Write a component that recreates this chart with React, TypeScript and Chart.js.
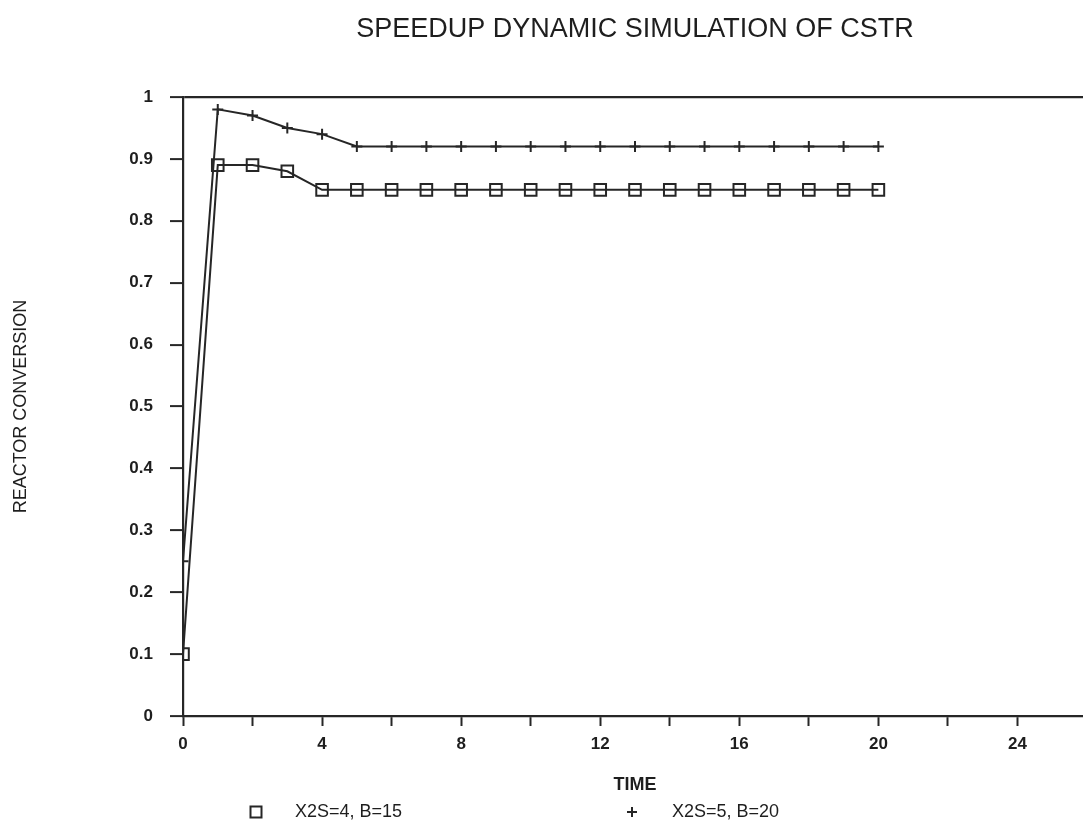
import React, { useEffect, useRef } from "react";
import { Chart, registerables } from "chart.js";

Chart.register(...registerables);

const times = [0, 1, 2, 3, 4, 5, 6, 7, 8, 9, 10, 11, 12, 13, 14, 15, 16, 17, 18, 19, 20];
const conversionA = [0.1, 0.89, 0.89, 0.88, 0.85, 0.85, 0.85, 0.85, 0.85, 0.85, 0.85, 0.85, 0.85, 0.85, 0.85, 0.85, 0.85, 0.85, 0.85, 0.85, 0.85];
const conversionB = [0.25, 0.98, 0.97, 0.95, 0.94, 0.92, 0.92, 0.92, 0.92, 0.92, 0.92, 0.92, 0.92, 0.92, 0.92, 0.92, 0.92, 0.92, 0.92, 0.92, 0.92];
const labelA = "X2S=4, B=15";
const labelB = "X2S=5, B=20";
const titleText = "SPEEDUP DYNAMIC SIMULATION OF CSTR";
const xTitle = "TIME";
const yTitle = "REACTOR CONVERSION";

const INK = "#262626";
const FONT = "'Liberation Sans', Arial, Helvetica, sans-serif";

const legendPlugin = {
  id: "scanLegend",
  afterDraw(chart: any) {
    const ctx = chart.ctx;
    const y = 812;
    const spots = [
      { mx: 256, tx: 295 },
      { mx: 632, tx: 672 },
    ];
    chart.data.datasets.forEach((ds: any, i: number) => {
      const s = spots[i];
      if (!s) return;
      ctx.save();
      ctx.strokeStyle = INK;
      ctx.lineWidth = 2;
      if (ds.pointStyle === "rect") {
        ctx.strokeRect(s.mx - 5.5, y - 5.5, 11, 11);
      } else {
        ctx.beginPath();
        ctx.moveTo(s.mx - 5, y);
        ctx.lineTo(s.mx + 5, y);
        ctx.moveTo(s.mx, y - 5);
        ctx.lineTo(s.mx, y + 5);
        ctx.stroke();
      }
      ctx.fillStyle = "#1e1e1e";
      ctx.font = `18px ${FONT}`;
      ctx.textBaseline = "middle";
      ctx.textAlign = "left";
      ctx.fillText(ds.label, s.tx, y);
      ctx.restore();
    });
  },
};

export default function App() {
  const canvasRef = useRef<HTMLCanvasElement | null>(null);

  useEffect(() => {
    const canvas = canvasRef.current;
    if (!canvas) return;
    const chart = new Chart(canvas, {
      type: "line",
      data: {
        labels: times,
        datasets: [
          {
            label: labelA,
            data: times.map((t, i) => ({ x: t, y: conversionA[i] })),
            borderColor: INK,
            borderWidth: 2,
            pointStyle: "rect",
            pointRadius: 8.2,
            pointBorderWidth: 2,
            pointBorderColor: INK,
            pointBackgroundColor: "rgba(0,0,0,0)",
            fill: false,
            tension: 0,
          },
          {
            label: labelB,
            data: times.map((t, i) => ({ x: t, y: conversionB[i] })),
            borderColor: INK,
            borderWidth: 2,
            pointStyle: "cross",
            pointRadius: 5.5,
            pointBorderWidth: 2,
            pointBorderColor: INK,
            fill: false,
            tension: 0,
          },
        ],
      },
      options: {
        responsive: false,
        animation: false,
        devicePixelRatio: 1,
        layout: { padding: { top: 0, left: 0, right: 0, bottom: 0 }, autoPadding: false },
        plugins: {
          legend: { display: false },
          tooltip: { enabled: false },
          title: {
            display: true,
            text: titleText,
            fullSize: false,
            color: "#1e1e1e",
            font: { family: FONT, size: 27, weight: "normal" },
            padding: { top: 13, bottom: 51.6 },
          },
        },
        scales: {
          x: {
            type: "linear",
            min: 0,
            max: 26,
            border: { display: true, color: INK, width: 2.2 },
            grid: {
              display: true,
              drawOnChartArea: false,
              drawTicks: true,
              tickLength: 10,
              tickColor: INK,
              tickWidth: 2,
            },
            ticks: {
              stepSize: 2,
              autoSkip: false,
              maxRotation: 0,
              padding: 8,
              color: "#1e1e1e",
              font: { family: FONT, size: 17, weight: "bold" },
              callback: (v: any) => (Number(v) % 4 === 0 ? String(v) : ""),
            },
            title: {
              display: true,
              text: xTitle,
              color: "#1e1e1e",
              font: { family: FONT, size: 18, weight: "bold" },
              padding: { top: 0, bottom: 32 },
            },
            afterFit: (scale: any) => {
              scale.height = 112;
              scale.paddingRight = 0;
              scale.paddingLeft = 0;
            },
          },
          y: {
            type: "linear",
            min: 0,
            max: 1,
            border: { display: true, color: INK, width: 2.2 },
            grid: {
              display: true,
              drawOnChartArea: true,
              drawTicks: true,
              tickLength: 13,
              tickColor: INK,
              tickWidth: 2,
              lineWidth: 2.2,
              color: (c: any) => (c.tick && c.tick.value === 1 ? INK : "rgba(0,0,0,0)"),
            },
            ticks: {
              stepSize: 0.1,
              padding: 17,
              color: "#1e1e1e",
              font: { family: FONT, size: 17, weight: "bold" },
              callback: (v: any) => String(Number(Number(v).toFixed(1))),
            },
            title: {
              display: true,
              text: yTitle,
              color: "#1e1e1e",
              font: { family: FONT, size: 18, weight: "normal" },
              padding: { top: 10, bottom: 0 },
            },
            afterFit: (scale: any) => {
              scale.width = 183;
            },
          },
        },
      },
      plugins: [legendPlugin],
    });
    return () => chart.destroy();
  }, []);

  return (
    <div
      style={{
        position: "fixed",
        left: 0,
        top: 0,
        width: 1087,
        height: 828,
        background: "#fff",
      }}
    >
      <canvas ref={canvasRef} width={1087} height={828} />
    </div>
  );
}
